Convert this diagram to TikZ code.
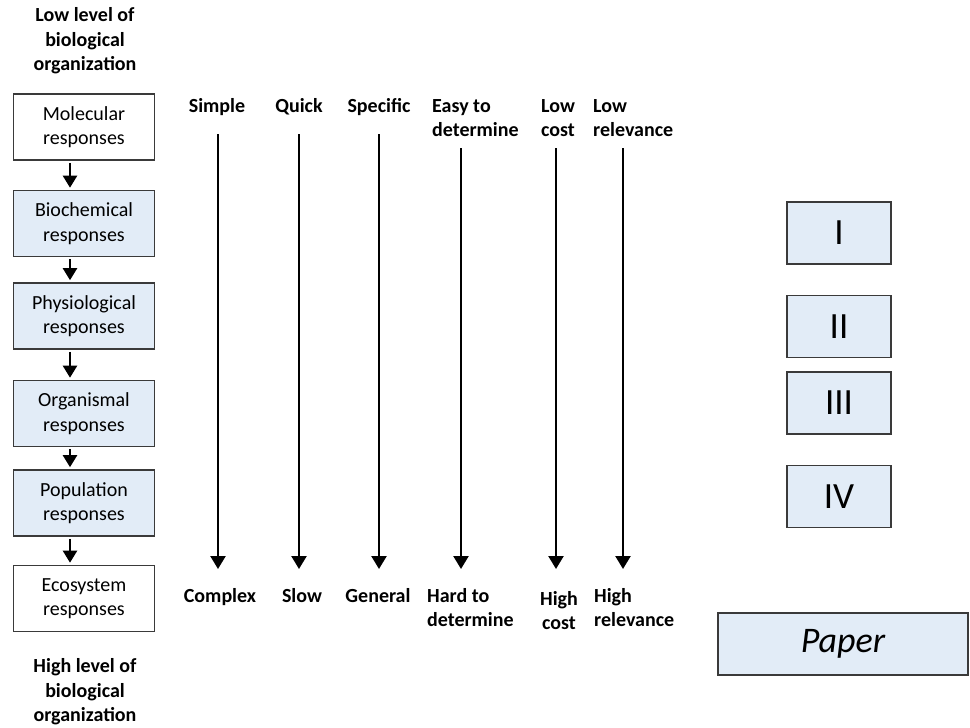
\documentclass[tikz,border=0pt]{standalone}
\usepackage{fontspec}
\setmainfont{Carlito}
\usetikzlibrary{arrows.meta}
\definecolor{boxblue}{HTML}{E2ECF7}
\definecolor{edge}{HTML}{3A3A3A}
\begin{document}
\begin{tikzpicture}[x=1pt,y=-1pt,
  lvl/.style={draw=edge,line width=1.6pt,minimum width=141pt,minimum height=66pt,inner sep=0pt,align=center,font=\fontsize{20}{24.5}\selectfont},
  blue/.style={fill=boxblue},
  roman/.style={draw=edge,line width=1.6pt,fill=boxblue,minimum width=104pt,minimum height=62pt,inner sep=0pt,font=\fontsize{37}{40}\selectfont},
  lab/.style={inner sep=0pt,font=\bfseries\fontsize{20}{24.5}\selectfont},
  arr/.style={line width=2.4pt,-{Triangle[width=15pt,length=13pt]}},
  sarr/.style={line width=2.2pt,-{Triangle[width=14pt,length=12pt]}}]
\useasboundingbox (0,0) rectangle (970,728);
% titles
\node[lab,align=center] (ttop) at (85,41) {Low level of\\biological\\organization};
\node[lab,align=center] (tbot) at (85,692) {High level of\\biological\\organization};
% level boxes
\node[lvl] (mol) at (84,127) {Molecular\\responses};
\node[lvl,blue] (bio) at (84,223.5) {Biochemical\\responses};
\node[lvl,blue] (phy) at (84,316) {Physiological\\responses};
\node[lvl,blue] (org) at (84,413.5) {Organismal\\responses};
\node[lvl,blue] (pop) at (84,503) {Population\\responses};
\node[lvl] (eco) at (84,598.5) {Ecosystem\\responses};
\foreach \a/\b in {mol/bio,bio/phy,phy/org,org/pop,pop/eco}
  \draw[sarr] ([xshift=-14pt,yshift=-2pt]\a.south) -- ([xshift=-14pt,yshift=2pt]\b.north);
% top labels
\node[lab,anchor=north] (t1) at (217,98) {Simple};
\node[lab,anchor=north] (t2) at (299,98) {Quick};
\node[lab,anchor=north] (t3) at (379,98) {Specific};
\node[lab,anchor=north west,align=left] (t4) at (432,99) {Easy to\\determine};
\node[lab,anchor=north,align=center] (t5) at (558,99) {Low\\cost};
\node[lab,anchor=north west,align=left] (t6) at (593,99) {Low\\relevance};
% bottom labels
\node[lab,anchor=north] (b1) at (220,588) {Complex};
\node[lab,anchor=north] (b2) at (302,588) {Slow};
\node[lab,anchor=north] (b3) at (378,588) {General};
\node[lab,anchor=north west,align=left] (b4) at (427,588) {Hard to\\determine};
\node[lab,anchor=north,align=center] (b5) at (559,591) {High\\cost};
\node[lab,anchor=north west,align=left] (b6) at (594,588) {High\\relevance};
% arrows
\coordinate (s1) at (218,134); \coordinate (e1) at (218,569);
\coordinate (s2) at (299,134); \coordinate (e2) at (299,569);
\coordinate (s3) at (379,134); \coordinate (e3) at (379,569);
\coordinate (s4) at (461,148); \coordinate (e4) at (461,569);
\coordinate (s5) at (556,148); \coordinate (e5) at (556,569);
\coordinate (s6) at (623,148); \coordinate (e6) at (623,569);
\foreach \i in {1,...,6} \draw[arr] (s\i) -- (e\i);
% roman boxes
\node[roman] (r1) at (839,233) {I};
\node[roman] (r2) at (839,326.5) {II};
\node[roman] (r3) at (839,403) {III};
\node[roman] (r4) at (839,496.5) {IV};
\node[roman,minimum width=250pt,font=\itshape\fontsize{36}{40}\selectfont] (paper) at (843,644) {Paper};
\end{tikzpicture}
\end{document}
